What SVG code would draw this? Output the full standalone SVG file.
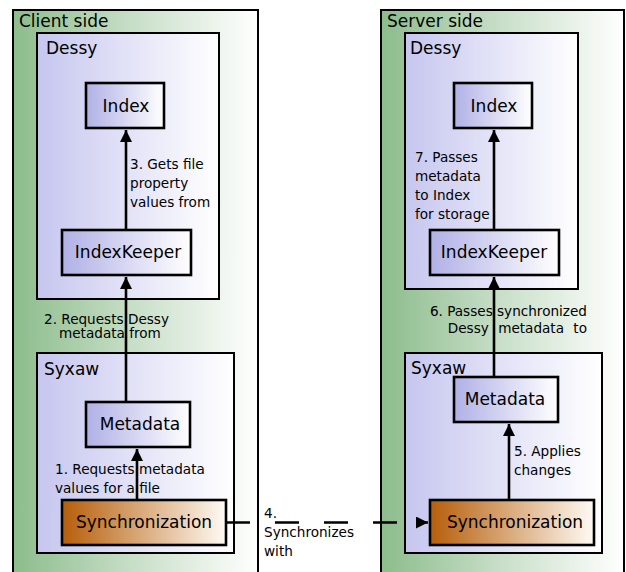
<svg xmlns="http://www.w3.org/2000/svg" width="626" height="572" viewBox="0 0 626 572">
<defs>
<linearGradient id="gGreen" x1="0" y1="0" x2="1" y2="0">
<stop offset="0" stop-color="#8cbc8c"/>
<stop offset="0.5" stop-color="#c9dfc9"/>
<stop offset="1" stop-color="#ffffff"/>
</linearGradient>
<linearGradient id="gLav" x1="0" y1="0" x2="1" y2="0">
<stop offset="0" stop-color="#c6c6ef"/>
<stop offset="1" stop-color="#ffffff"/>
</linearGradient>
<linearGradient id="gNode" x1="0" y1="0" x2="1" y2="0">
<stop offset="0" stop-color="#b0b0e6"/>
<stop offset="1" stop-color="#ffffff"/>
</linearGradient>
<linearGradient id="gOrange" x1="0" y1="0" x2="1" y2="0">
<stop offset="0" stop-color="#b65e0a"/>
<stop offset="1" stop-color="#fffaf4"/>
</linearGradient>
<marker id="arr" markerUnits="userSpaceOnUse" markerWidth="12" markerHeight="12" viewBox="0 0 12 12" refX="12" refY="6" orient="auto">
<path d="M0,0 L12,6 L0,12 z" fill="#000"/>
</marker>
</defs>
<style>
text{font-family:"DejaVu Sans","Liberation Sans",sans-serif;fill:#000}
.title{font-size:17px}
.node{font-size:17px;text-anchor:middle}
.lbl{font-size:13.6px}
.outer{fill:url(#gGreen);stroke:#000;stroke-width:2}
.pkg{fill:url(#gLav);stroke:#000;stroke-width:2}
.box{fill:url(#gNode);stroke:#000;stroke-width:2.6}
.sync{fill:url(#gOrange);stroke:#000;stroke-width:2.6}
.conn{stroke:#000;stroke-width:2.6;fill:none}
</style>
<rect width="626" height="572" fill="#fff"/>

<g id="client-side">
<rect class="outer" x="13" y="10" width="245" height="575"/>
<text class="title" x="19" y="27">Client side</text>
</g>
<g id="server-side">
<rect class="outer" x="381" y="10" width="243" height="575"/>
<text class="title" x="387" y="27">Server side</text>
</g>

<g id="client-dessy">
<rect class="pkg" x="37" y="33" width="182" height="266"/>
<text class="title" x="46" y="54">Dessy</text>
</g>
<g id="client-syxaw">
<rect class="pkg" x="37" y="353" width="197" height="200"/>
<text class="title" x="44" y="375">Syxaw</text>
</g>
<g id="server-dessy">
<rect class="pkg" x="405" y="33" width="173" height="256"/>
<text class="title" x="410" y="54">Dessy</text>
</g>
<g id="server-syxaw">
<rect class="pkg" x="405" y="353" width="197" height="200"/>
<text class="title" x="411" y="374">Syxaw</text>
</g>

<g id="client-index">
<rect class="box" x="86" y="83" width="78" height="45"/>
<text class="node" x="126" y="112">Index</text>
</g>
<g id="client-indexkeeper">
<rect class="box" x="62" y="230" width="129" height="45"/>
<text class="node" x="128" y="258">IndexKeeper</text>
</g>
<g id="client-metadata">
<rect class="box" x="86" y="402" width="104" height="45"/>
<text class="node" x="140" y="430">Metadata</text>
</g>
<g id="client-sync">
<rect class="sync" x="62" y="500" width="164" height="45"/>
<text class="node" x="144" y="528">Synchronization</text>
</g>

<g id="server-index">
<rect class="box" x="454" y="83" width="78" height="45"/>
<text class="node" x="494" y="112">Index</text>
</g>
<g id="server-indexkeeper">
<rect class="box" x="430" y="230" width="129" height="45"/>
<text class="node" x="494" y="258">IndexKeeper</text>
</g>
<g id="server-metadata">
<rect class="box" x="454" y="377" width="104" height="45"/>
<text class="node" x="505" y="405">Metadata</text>
</g>
<g id="server-sync">
<rect class="sync" x="430" y="500" width="164" height="45"/>
<text class="node" x="515" y="528">Synchronization</text>
</g>

<g id="connectors">
<line class="conn" x1="126" y1="230" x2="126" y2="130" marker-end="url(#arr)"/>
<line class="conn" x1="126" y1="402" x2="126" y2="277" marker-end="url(#arr)"/>
<line class="conn" x1="137" y1="500" x2="137" y2="449" marker-end="url(#arr)"/>
<line class="conn" x1="226" y1="522.5" x2="428" y2="522.5" stroke-dasharray="24,25" marker-end="url(#arr)"/>
<line class="conn" x1="509" y1="500" x2="509" y2="424" marker-end="url(#arr)"/>
<line class="conn" x1="494" y1="377" x2="494" y2="277" marker-end="url(#arr)"/>
<line class="conn" x1="494" y1="230" x2="494" y2="130" marker-end="url(#arr)"/>
<text class="lbl" x="130" y="169">3. Gets file</text>
<text class="lbl" x="130" y="188">property</text>
<text class="lbl" x="130" y="207">values from</text>
<text class="lbl" x="44" y="323.5">2. Requests Dessy</text>
<text class="lbl" x="59" y="338">metadata from</text>
<text class="lbl" x="55" y="474">1. Requests metadata</text>
<text class="lbl" x="55" y="493">values for a file</text>
<text class="lbl" x="264" y="518">4.</text>
<text class="lbl" x="264" y="537">Synchronizes</text>
<text class="lbl" x="264" y="556">with</text>
<text class="lbl" x="514" y="456">5. Applies</text>
<text class="lbl" x="514" y="475">changes</text>
<text class="lbl" x="587" y="316" text-anchor="end">6. Passes synchronized</text>
<text class="lbl" x="587" y="333" text-anchor="end" word-spacing="5">Dessy metadata to</text>
<text class="lbl" x="415" y="162">7. Passes</text>
<text class="lbl" x="415" y="181">metadata</text>
<text class="lbl" x="415" y="200">to Index</text>
<text class="lbl" x="415" y="219">for storage</text>
</g>
</svg>
